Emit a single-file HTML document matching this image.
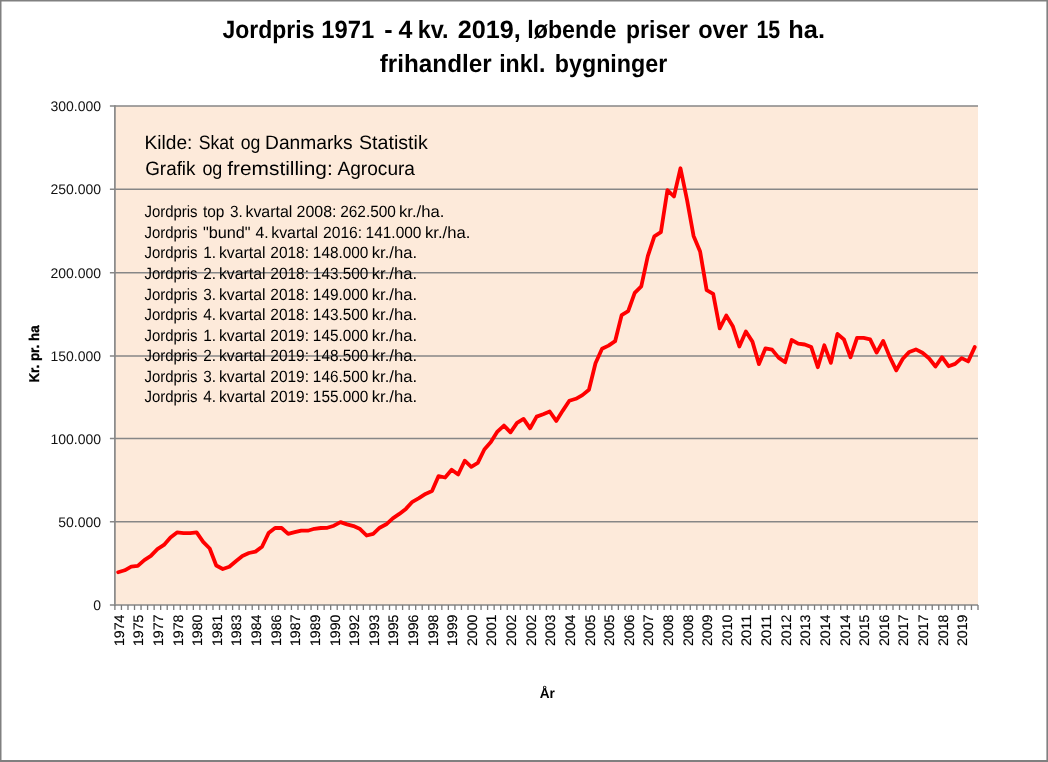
<!DOCTYPE html>
<html lang="da"><head><meta charset="utf-8"><title>Jordpris 1971 - 4 kv. 2019</title>
<style>
html,body{margin:0;padding:0;background:#fff;}
body{width:1048px;height:762px;overflow:hidden;}
svg{display:block;}
text{font-family:"Liberation Sans",sans-serif;fill:#000;text-rendering:geometricPrecision;}
.t{font-size:25.0px;font-weight:bold;}
.k{font-size:19.4px;}
.l{font-size:16.3px;}
.yl{font-size:14.0px;}
.xl{font-size:13.8px;}
.ax{font-size:14.0px;font-weight:bold;}
.yl{text-anchor:end;fill:#111;}
.xl{text-anchor:end;stroke:#000;stroke-width:0.15px;}
</style></head><body>
<svg width="1048" height="762" viewBox="0 0 1048 762">
<rect x="0" y="0" width="1048" height="762" fill="#fff"/>
<rect x="0" y="0" width="1048" height="1.5" fill="#808080"/>
<rect x="0" y="0" width="1.5" height="762" fill="#808080"/>
<rect x="1046.4" y="0" width="1.6" height="762" fill="#808080"/>
<rect x="0" y="760" width="1048" height="2" fill="#808080"/>
<rect x="114.90" y="106.00" width="863.10" height="498.90" fill="#FDEADA"/>
<path d="M109.90 604.90H978.00M109.90 521.80H978.00M109.90 438.50H978.00M109.90 356.00H978.00M109.90 272.65H978.00M109.90 189.30H978.00M109.90 106.00H978.00" stroke="#878787" stroke-width="1.5" fill="none"/>
<path d="M114.90 105.20V605.70" stroke="#878787" stroke-width="1.7" fill="none"/>
<path d="M114.90 604.90V609.90M121.44 604.90V609.90M127.98 604.90V609.90M134.52 604.90V609.90M141.05 604.90V609.90M147.59 604.90V609.90M154.13 604.90V609.90M160.67 604.90V609.90M167.21 604.90V609.90M173.75 604.90V609.90M180.29 604.90V609.90M186.83 604.90V609.90M193.36 604.90V609.90M199.90 604.90V609.90M206.44 604.90V609.90M212.98 604.90V609.90M219.52 604.90V609.90M226.06 604.90V609.90M232.60 604.90V609.90M239.13 604.90V609.90M245.67 604.90V609.90M252.21 604.90V609.90M258.75 604.90V609.90M265.29 604.90V609.90M271.83 604.90V609.90M278.37 604.90V609.90M284.90 604.90V609.90M291.44 604.90V609.90M297.98 604.90V609.90M304.52 604.90V609.90M311.06 604.90V609.90M317.60 604.90V609.90M324.14 604.90V609.90M330.68 604.90V609.90M337.21 604.90V609.90M343.75 604.90V609.90M350.29 604.90V609.90M356.83 604.90V609.90M363.37 604.90V609.90M369.91 604.90V609.90M376.45 604.90V609.90M382.98 604.90V609.90M389.52 604.90V609.90M396.06 604.90V609.90M402.60 604.90V609.90M409.14 604.90V609.90M415.68 604.90V609.90M422.22 604.90V609.90M428.75 604.90V609.90M435.29 604.90V609.90M441.83 604.90V609.90M448.37 604.90V609.90M454.91 604.90V609.90M461.45 604.90V609.90M467.99 604.90V609.90M474.52 604.90V609.90M481.06 604.90V609.90M487.60 604.90V609.90M494.14 604.90V609.90M500.68 604.90V609.90M507.22 604.90V609.90M513.76 604.90V609.90M520.30 604.90V609.90M526.83 604.90V609.90M533.37 604.90V609.90M539.91 604.90V609.90M546.45 604.90V609.90M552.99 604.90V609.90M559.53 604.90V609.90M566.07 604.90V609.90M572.60 604.90V609.90M579.14 604.90V609.90M585.68 604.90V609.90M592.22 604.90V609.90M598.76 604.90V609.90M605.30 604.90V609.90M611.84 604.90V609.90M618.38 604.90V609.90M624.91 604.90V609.90M631.45 604.90V609.90M637.99 604.90V609.90M644.53 604.90V609.90M651.07 604.90V609.90M657.61 604.90V609.90M664.15 604.90V609.90M670.68 604.90V609.90M677.22 604.90V609.90M683.76 604.90V609.90M690.30 604.90V609.90M696.84 604.90V609.90M703.38 604.90V609.90M709.92 604.90V609.90M716.45 604.90V609.90M722.99 604.90V609.90M729.53 604.90V609.90M736.07 604.90V609.90M742.61 604.90V609.90M749.15 604.90V609.90M755.69 604.90V609.90M762.23 604.90V609.90M768.76 604.90V609.90M775.30 604.90V609.90M781.84 604.90V609.90M788.38 604.90V609.90M794.92 604.90V609.90M801.46 604.90V609.90M808.00 604.90V609.90M814.53 604.90V609.90M821.07 604.90V609.90M827.61 604.90V609.90M834.15 604.90V609.90M840.69 604.90V609.90M847.23 604.90V609.90M853.77 604.90V609.90M860.30 604.90V609.90M866.84 604.90V609.90M873.38 604.90V609.90M879.92 604.90V609.90M886.46 604.90V609.90M893.00 604.90V609.90M899.54 604.90V609.90M906.08 604.90V609.90M912.61 604.90V609.90M919.15 604.90V609.90M925.69 604.90V609.90M932.23 604.90V609.90M938.77 604.90V609.90M945.31 604.90V609.90M951.85 604.90V609.90M958.38 604.90V609.90M964.92 604.90V609.90M971.46 604.90V609.90M978.00 604.90V609.90" stroke="#7a7a7a" stroke-width="1.3" fill="none"/>
<text class="yl" x="101.1" y="609.90">0</text>
<text class="yl" x="101.1" y="526.80">50.000</text>
<text class="yl" x="101.1" y="443.50">100.000</text>
<text class="yl" x="101.1" y="361.00">150.000</text>
<text class="yl" x="101.1" y="277.65">200.000</text>
<text class="yl" x="101.1" y="194.30">250.000</text>
<text class="yl" x="101.1" y="111.00">300.000</text>
<text class="xl" transform="translate(123.77 614.6) rotate(-90)" textLength="31.5" lengthAdjust="spacingAndGlyphs">1974</text>
<text class="xl" transform="translate(143.39 614.6) rotate(-90)" textLength="31.5" lengthAdjust="spacingAndGlyphs">1975</text>
<text class="xl" transform="translate(163.00 614.6) rotate(-90)" textLength="31.5" lengthAdjust="spacingAndGlyphs">1977</text>
<text class="xl" transform="translate(182.62 614.6) rotate(-90)" textLength="31.5" lengthAdjust="spacingAndGlyphs">1978</text>
<text class="xl" transform="translate(202.23 614.6) rotate(-90)" textLength="31.5" lengthAdjust="spacingAndGlyphs">1980</text>
<text class="xl" transform="translate(221.85 614.6) rotate(-90)" textLength="31.5" lengthAdjust="spacingAndGlyphs">1981</text>
<text class="xl" transform="translate(241.46 614.6) rotate(-90)" textLength="31.5" lengthAdjust="spacingAndGlyphs">1983</text>
<text class="xl" transform="translate(261.08 614.6) rotate(-90)" textLength="31.5" lengthAdjust="spacingAndGlyphs">1984</text>
<text class="xl" transform="translate(280.70 614.6) rotate(-90)" textLength="31.5" lengthAdjust="spacingAndGlyphs">1986</text>
<text class="xl" transform="translate(300.31 614.6) rotate(-90)" textLength="31.5" lengthAdjust="spacingAndGlyphs">1987</text>
<text class="xl" transform="translate(319.93 614.6) rotate(-90)" textLength="31.5" lengthAdjust="spacingAndGlyphs">1989</text>
<text class="xl" transform="translate(339.54 614.6) rotate(-90)" textLength="31.5" lengthAdjust="spacingAndGlyphs">1990</text>
<text class="xl" transform="translate(359.16 614.6) rotate(-90)" textLength="31.5" lengthAdjust="spacingAndGlyphs">1992</text>
<text class="xl" transform="translate(378.78 614.6) rotate(-90)" textLength="31.5" lengthAdjust="spacingAndGlyphs">1993</text>
<text class="xl" transform="translate(398.39 614.6) rotate(-90)" textLength="31.5" lengthAdjust="spacingAndGlyphs">1995</text>
<text class="xl" transform="translate(418.01 614.6) rotate(-90)" textLength="31.5" lengthAdjust="spacingAndGlyphs">1996</text>
<text class="xl" transform="translate(437.62 614.6) rotate(-90)" textLength="31.5" lengthAdjust="spacingAndGlyphs">1998</text>
<text class="xl" transform="translate(457.24 614.6) rotate(-90)" textLength="31.5" lengthAdjust="spacingAndGlyphs">1999</text>
<text class="xl" transform="translate(476.86 614.6) rotate(-90)" textLength="31.5" lengthAdjust="spacingAndGlyphs">2000</text>
<text class="xl" transform="translate(496.47 614.6) rotate(-90)" textLength="31.5" lengthAdjust="spacingAndGlyphs">2001</text>
<text class="xl" transform="translate(516.09 614.6) rotate(-90)" textLength="31.5" lengthAdjust="spacingAndGlyphs">2002</text>
<text class="xl" transform="translate(535.70 614.6) rotate(-90)" textLength="31.5" lengthAdjust="spacingAndGlyphs">2002</text>
<text class="xl" transform="translate(555.32 614.6) rotate(-90)" textLength="31.5" lengthAdjust="spacingAndGlyphs">2003</text>
<text class="xl" transform="translate(574.94 614.6) rotate(-90)" textLength="31.5" lengthAdjust="spacingAndGlyphs">2004</text>
<text class="xl" transform="translate(594.55 614.6) rotate(-90)" textLength="31.5" lengthAdjust="spacingAndGlyphs">2005</text>
<text class="xl" transform="translate(614.17 614.6) rotate(-90)" textLength="31.5" lengthAdjust="spacingAndGlyphs">2005</text>
<text class="xl" transform="translate(633.78 614.6) rotate(-90)" textLength="31.5" lengthAdjust="spacingAndGlyphs">2006</text>
<text class="xl" transform="translate(653.40 614.6) rotate(-90)" textLength="31.5" lengthAdjust="spacingAndGlyphs">2007</text>
<text class="xl" transform="translate(673.01 614.6) rotate(-90)" textLength="31.5" lengthAdjust="spacingAndGlyphs">2008</text>
<text class="xl" transform="translate(692.63 614.6) rotate(-90)" textLength="31.5" lengthAdjust="spacingAndGlyphs">2008</text>
<text class="xl" transform="translate(712.25 614.6) rotate(-90)" textLength="31.5" lengthAdjust="spacingAndGlyphs">2009</text>
<text class="xl" transform="translate(731.86 614.6) rotate(-90)" textLength="31.5" lengthAdjust="spacingAndGlyphs">2010</text>
<text class="xl" transform="translate(751.48 614.6) rotate(-90)" textLength="31.5" lengthAdjust="spacingAndGlyphs">2011</text>
<text class="xl" transform="translate(771.09 614.6) rotate(-90)" textLength="31.5" lengthAdjust="spacingAndGlyphs">2011</text>
<text class="xl" transform="translate(790.71 614.6) rotate(-90)" textLength="31.5" lengthAdjust="spacingAndGlyphs">2012</text>
<text class="xl" transform="translate(810.33 614.6) rotate(-90)" textLength="31.5" lengthAdjust="spacingAndGlyphs">2013</text>
<text class="xl" transform="translate(829.94 614.6) rotate(-90)" textLength="31.5" lengthAdjust="spacingAndGlyphs">2014</text>
<text class="xl" transform="translate(849.56 614.6) rotate(-90)" textLength="31.5" lengthAdjust="spacingAndGlyphs">2014</text>
<text class="xl" transform="translate(869.17 614.6) rotate(-90)" textLength="31.5" lengthAdjust="spacingAndGlyphs">2015</text>
<text class="xl" transform="translate(888.79 614.6) rotate(-90)" textLength="31.5" lengthAdjust="spacingAndGlyphs">2016</text>
<text class="xl" transform="translate(908.41 614.6) rotate(-90)" textLength="31.5" lengthAdjust="spacingAndGlyphs">2017</text>
<text class="xl" transform="translate(928.02 614.6) rotate(-90)" textLength="31.5" lengthAdjust="spacingAndGlyphs">2017</text>
<text class="xl" transform="translate(947.64 614.6) rotate(-90)" textLength="31.5" lengthAdjust="spacingAndGlyphs">2018</text>
<text class="xl" transform="translate(967.25 614.6) rotate(-90)" textLength="31.5" lengthAdjust="spacingAndGlyphs">2019</text>
<text class="t" y="38.35"><tspan x="222.50" textLength="91.93" lengthAdjust="spacingAndGlyphs">Jordpris</tspan> <tspan x="321.25" textLength="52.96" lengthAdjust="spacingAndGlyphs">1971</tspan> <tspan x="384.30" textLength="8.33" lengthAdjust="spacingAndGlyphs">-</tspan> <tspan x="398.40" textLength="13.90" lengthAdjust="spacingAndGlyphs">4</tspan> <tspan x="417.66" textLength="30.93" lengthAdjust="spacingAndGlyphs">kv.</tspan> <tspan x="457.70" textLength="63.05" lengthAdjust="spacingAndGlyphs">2019,</tspan> <tspan x="527.27" textLength="89.04" lengthAdjust="spacingAndGlyphs">løbende</tspan> <tspan x="626.08" textLength="63.77" lengthAdjust="spacingAndGlyphs">priser</tspan> <tspan x="698.20" textLength="49.84" lengthAdjust="spacingAndGlyphs">over</tspan> <tspan x="756.45" textLength="23.77" lengthAdjust="spacingAndGlyphs">15</tspan> <tspan x="788.28" textLength="36.68" lengthAdjust="spacingAndGlyphs">ha.</tspan></text>
<text class="t" y="71.60"><tspan x="379.80" textLength="111.84" lengthAdjust="spacingAndGlyphs">frihandler</tspan> <tspan x="499.18" textLength="46.20" lengthAdjust="spacingAndGlyphs">inkl.</tspan> <tspan x="554.77" textLength="112.48" lengthAdjust="spacingAndGlyphs">bygninger</tspan></text>
<text class="k" y="149.00"><tspan x="144.51" textLength="47.86" lengthAdjust="spacingAndGlyphs">Kilde:</tspan> <tspan x="198.70" textLength="35.24" lengthAdjust="spacingAndGlyphs">Skat</tspan> <tspan x="240.80" textLength="19.61" lengthAdjust="spacingAndGlyphs">og</tspan> <tspan x="265.01" textLength="87.58" lengthAdjust="spacingAndGlyphs">Danmarks</tspan> <tspan x="359.00" textLength="68.69" lengthAdjust="spacingAndGlyphs">Statistik</tspan></text>
<text class="k" y="174.65"><tspan x="145.20" textLength="50.30" lengthAdjust="spacingAndGlyphs">Grafik</tspan> <tspan x="202.40" textLength="19.92" lengthAdjust="spacingAndGlyphs">og</tspan> <tspan x="227.30" textLength="105.39" lengthAdjust="spacingAndGlyphs">fremstilling:</tspan> <tspan x="337.50" textLength="77.49" lengthAdjust="spacingAndGlyphs">Agrocura</tspan></text>
<text class="l" y="217.35"><tspan x="144.50" textLength="53.03" lengthAdjust="spacingAndGlyphs">Jordpris</tspan> <tspan x="202.90" textLength="21.45" lengthAdjust="spacingAndGlyphs">top</tspan> <tspan x="230.00" textLength="12.79" lengthAdjust="spacingAndGlyphs">3.</tspan> <tspan x="245.42" textLength="46.98" lengthAdjust="spacingAndGlyphs">kvartal</tspan> <tspan x="296.60" textLength="39.91" lengthAdjust="spacingAndGlyphs">2008:</tspan> <tspan x="340.20" textLength="55.75" lengthAdjust="spacingAndGlyphs">262.500</tspan> <tspan x="398.97" textLength="45.46" lengthAdjust="spacingAndGlyphs">kr./ha.</tspan></text>
<text class="l" y="237.92"><tspan x="144.50" textLength="53.03" lengthAdjust="spacingAndGlyphs">Jordpris</tspan> <tspan x="202.90" textLength="47.68" lengthAdjust="spacingAndGlyphs">&quot;bund&quot;</tspan> <tspan x="255.50" textLength="13.11" lengthAdjust="spacingAndGlyphs">4.</tspan> <tspan x="271.22" textLength="46.78" lengthAdjust="spacingAndGlyphs">kvartal</tspan> <tspan x="323.00" textLength="39.10" lengthAdjust="spacingAndGlyphs">2016:</tspan> <tspan x="365.55" textLength="55.90" lengthAdjust="spacingAndGlyphs">141.000</tspan> <tspan x="424.98" textLength="45.36" lengthAdjust="spacingAndGlyphs">kr./ha.</tspan></text>
<text class="l" y="258.49"><tspan x="144.50" textLength="53.03" lengthAdjust="spacingAndGlyphs">Jordpris</tspan> <tspan x="203.15" textLength="12.84" lengthAdjust="spacingAndGlyphs">1.</tspan> <tspan x="218.93" textLength="46.57" lengthAdjust="spacingAndGlyphs">kvartal</tspan> <tspan x="270.30" textLength="38.70" lengthAdjust="spacingAndGlyphs">2018:</tspan> <tspan x="312.86" textLength="55.49" lengthAdjust="spacingAndGlyphs">148.000</tspan> <tspan x="371.78" textLength="45.25" lengthAdjust="spacingAndGlyphs">kr./ha.</tspan></text>
<text class="l" y="279.06"><tspan x="144.50" textLength="53.03" lengthAdjust="spacingAndGlyphs">Jordpris</tspan> <tspan x="203.20" textLength="12.79" lengthAdjust="spacingAndGlyphs">2.</tspan> <tspan x="218.93" textLength="46.57" lengthAdjust="spacingAndGlyphs">kvartal</tspan> <tspan x="270.30" textLength="38.70" lengthAdjust="spacingAndGlyphs">2018:</tspan> <tspan x="312.86" textLength="55.49" lengthAdjust="spacingAndGlyphs">143.500</tspan> <tspan x="371.78" textLength="45.25" lengthAdjust="spacingAndGlyphs">kr./ha.</tspan></text>
<text class="l" y="299.63"><tspan x="144.50" textLength="53.03" lengthAdjust="spacingAndGlyphs">Jordpris</tspan> <tspan x="203.20" textLength="12.79" lengthAdjust="spacingAndGlyphs">3.</tspan> <tspan x="218.93" textLength="46.57" lengthAdjust="spacingAndGlyphs">kvartal</tspan> <tspan x="270.30" textLength="38.70" lengthAdjust="spacingAndGlyphs">2018:</tspan> <tspan x="312.86" textLength="55.49" lengthAdjust="spacingAndGlyphs">149.000</tspan> <tspan x="371.78" textLength="45.25" lengthAdjust="spacingAndGlyphs">kr./ha.</tspan></text>
<text class="l" y="320.20"><tspan x="144.50" textLength="53.03" lengthAdjust="spacingAndGlyphs">Jordpris</tspan> <tspan x="203.20" textLength="12.79" lengthAdjust="spacingAndGlyphs">4.</tspan> <tspan x="218.93" textLength="46.57" lengthAdjust="spacingAndGlyphs">kvartal</tspan> <tspan x="270.30" textLength="38.70" lengthAdjust="spacingAndGlyphs">2018:</tspan> <tspan x="312.86" textLength="55.49" lengthAdjust="spacingAndGlyphs">143.500</tspan> <tspan x="371.78" textLength="45.25" lengthAdjust="spacingAndGlyphs">kr./ha.</tspan></text>
<text class="l" y="340.77"><tspan x="144.50" textLength="53.03" lengthAdjust="spacingAndGlyphs">Jordpris</tspan> <tspan x="203.15" textLength="12.84" lengthAdjust="spacingAndGlyphs">1.</tspan> <tspan x="218.93" textLength="46.57" lengthAdjust="spacingAndGlyphs">kvartal</tspan> <tspan x="270.30" textLength="38.70" lengthAdjust="spacingAndGlyphs">2019:</tspan> <tspan x="312.86" textLength="55.49" lengthAdjust="spacingAndGlyphs">145.000</tspan> <tspan x="371.78" textLength="45.25" lengthAdjust="spacingAndGlyphs">kr./ha.</tspan></text>
<text class="l" y="361.34"><tspan x="144.50" textLength="53.03" lengthAdjust="spacingAndGlyphs">Jordpris</tspan> <tspan x="203.20" textLength="12.79" lengthAdjust="spacingAndGlyphs">2.</tspan> <tspan x="218.93" textLength="46.57" lengthAdjust="spacingAndGlyphs">kvartal</tspan> <tspan x="270.30" textLength="38.70" lengthAdjust="spacingAndGlyphs">2019:</tspan> <tspan x="312.86" textLength="55.49" lengthAdjust="spacingAndGlyphs">148.500</tspan> <tspan x="371.78" textLength="45.25" lengthAdjust="spacingAndGlyphs">kr./ha.</tspan></text>
<text class="l" y="381.91"><tspan x="144.50" textLength="53.03" lengthAdjust="spacingAndGlyphs">Jordpris</tspan> <tspan x="203.20" textLength="12.79" lengthAdjust="spacingAndGlyphs">3.</tspan> <tspan x="218.93" textLength="46.57" lengthAdjust="spacingAndGlyphs">kvartal</tspan> <tspan x="270.30" textLength="38.70" lengthAdjust="spacingAndGlyphs">2019:</tspan> <tspan x="312.86" textLength="55.49" lengthAdjust="spacingAndGlyphs">146.500</tspan> <tspan x="371.78" textLength="45.25" lengthAdjust="spacingAndGlyphs">kr./ha.</tspan></text>
<text class="l" y="402.48"><tspan x="144.50" textLength="53.03" lengthAdjust="spacingAndGlyphs">Jordpris</tspan> <tspan x="203.20" textLength="12.79" lengthAdjust="spacingAndGlyphs">4.</tspan> <tspan x="218.93" textLength="46.57" lengthAdjust="spacingAndGlyphs">kvartal</tspan> <tspan x="270.30" textLength="38.70" lengthAdjust="spacingAndGlyphs">2019:</tspan> <tspan x="312.86" textLength="55.49" lengthAdjust="spacingAndGlyphs">155.000</tspan> <tspan x="371.78" textLength="45.25" lengthAdjust="spacingAndGlyphs">kr./ha.</tspan></text>
<polyline points="118.17,572.30 124.71,570.30 131.25,566.60 137.79,565.90 144.32,560.10 150.86,555.90 157.40,549.20 163.94,544.90 170.48,537.40 177.02,532.40 183.56,533.20 190.09,533.20 196.63,532.40 203.17,541.80 209.71,548.50 216.25,565.50 222.79,569.00 229.33,566.80 235.86,561.20 242.40,555.90 248.94,553.00 255.48,551.60 262.02,546.80 268.56,533.10 275.10,528.00 281.64,528.00 288.17,533.80 294.71,532.20 301.25,530.70 307.79,530.70 314.33,528.80 320.87,528.00 327.41,527.80 333.94,525.70 340.48,522.10 347.02,524.40 353.56,526.10 360.10,529.10 366.64,535.50 373.18,533.80 379.71,527.70 386.25,524.30 392.79,518.30 399.33,513.90 405.87,508.90 412.41,501.80 418.95,498.20 425.49,493.90 432.02,491.10 438.56,476.10 445.10,477.50 451.64,469.70 458.18,474.50 464.72,460.70 471.26,466.80 477.79,462.80 484.33,449.50 490.87,442.10 497.41,431.60 503.95,425.60 510.49,432.30 517.03,422.90 523.56,418.90 530.10,428.30 536.64,416.60 543.18,414.20 549.72,411.50 556.26,420.90 562.80,410.60 569.34,400.80 575.87,398.80 582.41,395.10 588.95,389.70 595.49,363.30 602.03,348.80 608.57,345.60 615.11,341.20 621.64,315.10 628.18,311.10 634.72,292.90 641.26,286.30 647.80,256.20 654.34,236.40 660.88,232.20 667.41,190.20 673.95,196.50 680.49,168.30 687.03,199.80 693.57,235.90 700.11,251.50 706.65,290.10 713.19,293.90 719.72,328.30 726.26,315.50 732.80,326.20 739.34,346.50 745.88,331.50 752.42,341.60 758.96,364.10 765.49,348.30 772.03,349.60 778.57,357.60 785.11,362.30 791.65,340.00 798.19,343.60 804.73,344.50 811.26,347.10 817.80,367.20 824.34,345.30 830.88,362.90 837.42,333.90 843.96,339.50 850.50,357.30 857.04,337.90 863.57,337.90 870.11,339.30 876.65,352.60 883.19,340.90 889.73,356.90 896.27,370.40 902.81,358.80 909.34,351.90 915.88,349.40 922.42,352.70 928.96,358.30 935.50,366.50 942.04,357.20 948.58,366.20 955.11,363.90 961.65,358.10 968.19,361.40 974.73,347.10" fill="none" stroke="#FF0000" stroke-width="3.8" stroke-linejoin="round" stroke-linecap="round"/>
<text class="ax" style="stroke:#000;stroke-width:0.35px" transform="translate(39.2 382.6) rotate(-90)" textLength="57.2" lengthAdjust="spacingAndGlyphs">Kr. pr. ha</text>
<text class="ax" x="539.7" y="697.7" textLength="15.2" lengthAdjust="spacingAndGlyphs">År</text>
</svg>
</body></html>
